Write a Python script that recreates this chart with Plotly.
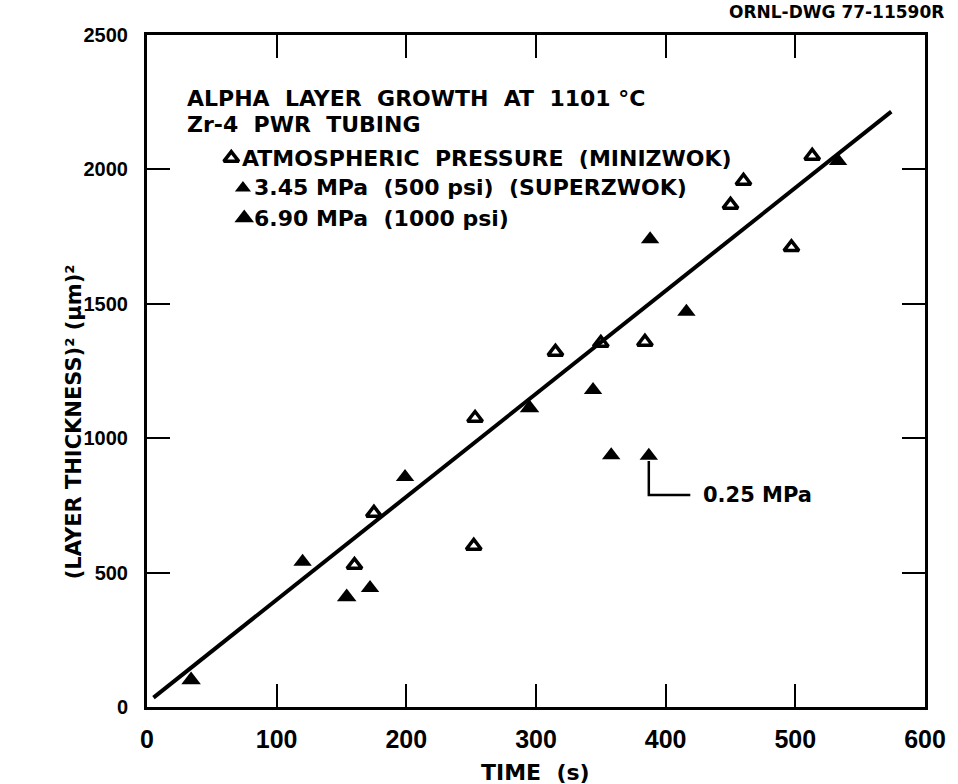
import plotly.graph_objects as go

# ---- data ----
atm_time = [160, 175, 252, 253, 315, 350, 384, 450, 460, 497, 513]
atm_thick2 = [528, 722, 599, 1075, 1321, 1354, 1358, 1868, 1957, 1710, 2050]

mpa345_time = [120, 172, 199, 344, 358, 388, 416, 533]
mpa345_thick2 = [540, 443, 856, 1179, 937, 1740, 1470, 2031]

mpa690_time = [34, 154, 295]
mpa690_thick2 = [100, 409, 1112]

mpa025_time = [387]
mpa025_thick2 = [935]

fit_time = [5, 574]
fit_thick2 = [35, 2215]

x_ticks = [0, 100, 200, 300, 400, 500, 600]
y_ticks = [0, 500, 1000, 1500, 2000, 2500]

FONT = "DejaVu Sans"
TICKFONT = "Liberation Sans"
BLACK = "black"

fig = go.Figure()

# regression line
fig.add_trace(go.Scatter(x=fit_time, y=fit_thick2, mode="lines",
                         line=dict(color=BLACK, width=4), showlegend=False, hoverinfo="skip"))

# atmospheric pressure: open triangles
fig.add_trace(go.Scatter(x=atm_time, y=atm_thick2, mode="markers", showlegend=False,
                         marker=dict(symbol="triangle-up-open", size=13, color=BLACK,
                                     line=dict(width=3.5, color=BLACK))))
# 3.45 MPa: filled triangles
fig.add_trace(go.Scatter(x=mpa345_time, y=mpa345_thick2, mode="markers", showlegend=False,
                         marker=dict(symbol="triangle-up", size=16, color=BLACK)))
# 6.90 MPa: larger filled triangles
fig.add_trace(go.Scatter(x=mpa690_time, y=mpa690_thick2, mode="markers", showlegend=False,
                         marker=dict(symbol="triangle-up", size=17, color=BLACK)))

# 0.25 MPa point with L-shaped leader
fig.add_trace(go.Scatter(x=mpa025_time, y=mpa025_thick2, mode="markers", showlegend=False,
                         marker=dict(symbol="triangle-up", size=16, color=BLACK)))
lead_x = [mpa025_time[0], mpa025_time[0], 419]
lead_y = [mpa025_thick2[0] - 20, 789, 789]
fig.add_trace(go.Scatter(x=lead_x, y=lead_y, mode="lines", showlegend=False,
                         line=dict(color=BLACK, width=2.5), hoverinfo="skip"))
fig.add_annotation(x=427, y=789, xref="x", yref="y", text="<b>0.25 MPa</b>", showarrow=False,
                   xanchor="left", yanchor="middle", font=dict(family=FONT, size=21, color=BLACK))

# in-plot key markers
key_x = [65, 74, 75]
key_y = [2042, 1931, 1819]
fig.add_trace(go.Scatter(x=[key_x[0]], y=[key_y[0]], mode="markers", showlegend=False,
                         marker=dict(symbol="triangle-up-open", size=13, color=BLACK,
                                     line=dict(width=3.5, color=BLACK))))
fig.add_trace(go.Scatter(x=[key_x[1]], y=[key_y[1]], mode="markers", showlegend=False,
                         marker=dict(symbol="triangle-up", size=14, color=BLACK)))
fig.add_trace(go.Scatter(x=[key_x[2]], y=[key_y[2]], mode="markers", showlegend=False,
                         marker=dict(symbol="triangle-up", size=17, color=BLACK)))

# plot area in window pixels: x 147..928, y 35..707
def pax(px):
    return (px - 147) / 781.0

def pay(py):
    return (707 - py) / 672.0

texts = [
    ("ALPHA  LAYER  GROWTH  AT  1101 °C", 185, 98),
    ("Zr-4  PWR  TUBING", 185, 125),
    ("ATMOSPHERIC  PRESSURE  (MINIZWOK)", 240, 158),
    ("3.45 MPa  (500 psi)  (SUPERZWOK)", 252, 188),
    ("6.90 MPa  (1000 psi)", 252, 218),
]
for t, px, py in texts:
    fig.add_annotation(x=pax(px), y=pay(py), xref="paper", yref="paper", text="<b>" + t + "</b>",
                       showarrow=False, xanchor="left", yanchor="middle",
                       font=dict(family=FONT, size=22, color=BLACK))

fig.add_annotation(x=pax(949), y=pay(12), xref="paper", yref="paper",
                   text="<b>ORNL-DWG 77-11590R</b>", showarrow=False, xanchor="right",
                   yanchor="middle", font=dict(family=FONT, size=17, color=BLACK))

fig.add_annotation(x=pax(537), y=pay(772), xref="paper", yref="paper", text="<b>TIME  (s)</b>",
                   showarrow=False, xanchor="center", yanchor="middle",
                   font=dict(family=FONT, size=22, color=BLACK))
fig.add_annotation(x=pax(74), y=pay(422), xref="paper", yref="paper",
                   text="<b>(LAYER THICKNESS)² (μm)²</b>", textangle=-90,
                   showarrow=False, xanchor="center", yanchor="middle",
                   font=dict(family=FONT, size=21, color=BLACK))

axis_common = dict(showgrid=False, zeroline=False, showline=True, linecolor=BLACK, linewidth=3,
                   mirror="allticks", ticks="inside", ticklen=23, tickwidth=2, tickcolor=BLACK)

fig.update_xaxes(range=[0, 600], tickvals=x_ticks, ticktext=["<b>%d</b>" % v for v in x_ticks],
                 tickfont=dict(family=TICKFONT, size=25, color=BLACK), ticklabelstandoff=8,
                 **axis_common)
fig.update_yaxes(range=[0, 2500], tickvals=y_ticks, ticktext=["<b>%d</b>" % v for v in y_ticks],
                 tickfont=dict(family=TICKFONT, size=20, color=BLACK), ticklabelstandoff=12,
                 **axis_common)

fig.update_layout(width=958, height=784, margin=dict(l=147, r=30, t=35, b=77),
                  plot_bgcolor="white", paper_bgcolor="white", showlegend=False)

# remove the page's default body margin so the figure fills the 958x784 window exactly
fig.write_html("out.html", config={"displayModeBar": False},
               post_script="document.body.style.margin='0';document.body.style.overflow='hidden';")
